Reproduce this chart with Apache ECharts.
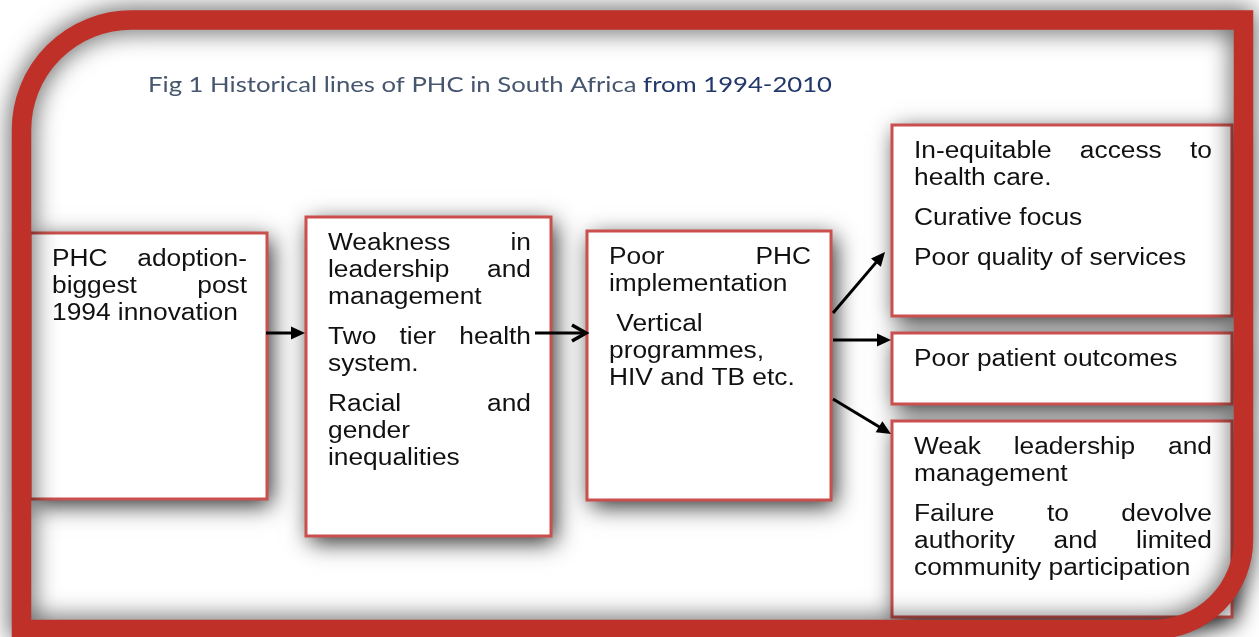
<!DOCTYPE html>
<html><head><meta charset="utf-8">
<script src="https://cdn.jsdelivr.net/npm/echarts@6/dist/echarts.min.js"></script>
<style>html,body{margin:0;padding:0;background:#fff}#c{width:1259px;height:637px}</style>
</head><body><div id="c"></div>
<script>
// ---------- content ----------
const titleParts = ['Fig 1 Historical lines of PHC in South Africa ', 'from 1994-2010'];
const boxNames = ['adoption', 'weaknesses', 'implementation', 'access', 'outcomes', 'governance'];
const boxParagraphs = [
  [['PHC adoption-', 'biggest post', '1994 innovation']],
  [['Weakness in', 'leadership and', 'management'], ['Two tier health', 'system.'], ['Racial and', 'gender', 'inequalities']],
  [['Poor PHC', 'implementation'], [' Vertical', 'programmes,', 'HIV and TB etc.']],
  [['In-equitable access to', 'health care.'], ['Curative focus'], ['Poor quality of services']],
  [['Poor patient outcomes']],
  [['Weak leadership and', 'management'], ['Failure to devolve', 'authority and limited', 'community participation']]
];
const links = [[0, 1], [1, 2], [2, 3], [2, 4], [2, 5]];
const linkHeads = ['solid', 'open', 'solid', 'solid', 'solid'];

// ---------- layout ----------
const boxRects = [[30, 233, 237, 266], [306, 217, 245, 319], [587, 231, 244, 269], [892, 125, 340, 191], [892, 333, 340, 71], [892, 421, 340, 196]];
const linkPaths = [[[266, 333], [305, 333]], [[535, 333], [586, 333]], [[833, 313], [885, 252]], [[833, 340], [891, 340]], [[833, 399], [891, 434]]];
const frame = { x: 21.5, y: 20, w: 1222, h: 609.5, r: [110, 0, 90, 0], lw: 19.5 };
const FONT_SIZE = 23.5, SX = 1.12, FONT_FAMILY = '"Liberation Sans", Arial, sans-serif';
const FONT = FONT_SIZE + 'px ' + FONT_FAMILY;
const TITLE_SIZE = 21.5, TITLE_FAMILY = 'Lato, "Open Sans", sans-serif';

const ctx = document.createElement('canvas').getContext('2d');
function measure(s, font) { ctx.font = font; return ctx.measureText(s).width; }

const els = [];
// white inner area of the frame
els.push({ type: 'rect', z: 0, shape: { x: frame.x, y: frame.y, width: frame.w, height: frame.h, r: frame.r }, style: { fill: '#ffffff' } });

function textEl(s, x, y) {
  return { type: 'text', z: 4, x: x, y: y, scaleX: SX,
    style: { text: s, font: FONT, fontSize: FONT_SIZE, fontFamily: FONT_FAMILY, fill: '#111111',
      align: 'left', verticalAlign: 'middle', textAlign: 'left', textVerticalAlign: 'middle' } };
}

boxRects.forEach((b, i) => {
  els.push({ type: 'rect', z: 1, shape: { x: b[0], y: b[1], width: b[2], height: b[3] },
    style: { fill: '#ffffff', shadowBlur: 22, shadowColor: 'rgba(0,0,0,0.85)', shadowOffsetX: 4, shadowOffsetY: 6 } });
  els.push({ type: 'rect', z: 2, shape: { x: b[0], y: b[1], width: b[2], height: b[3] },
    style: { fill: '#ffffff', stroke: '#C9504C', lineWidth: 3 } });
  const left = b[0] + 22, right = b[0] + b[2] - 20;
  let y = b[1] + 26.5;
  boxParagraphs[i].forEach(par => {
    par.forEach((line, li) => {
      const words = line.trim().split(/\s+/);
      const isLast = li === par.length - 1;
      if (!isLast && words.length > 1) {
        const widths = words.map(wd => measure(wd, FONT) * SX);
        const total = widths.reduce((a, c) => a + c, 0);
        const gap = (right - left - total) / (words.length - 1);
        let x = left;
        words.forEach((wd, k) => { els.push(textEl(wd, x, y)); x += widths[k] + gap; });
      } else {
        els.push(textEl(line, left, y));
      }
      y += 27;
    });
    y += 13;
  });
});

// arrows
linkPaths.forEach((p, i) => {
  const [x1, y1] = p[0], [x2, y2] = p[1];
  const dx = x2 - x1, dy = y2 - y1, len = Math.hypot(dx, dy);
  const ux = dx / len, uy = dy / len, px = -uy, py = ux;
  const L = 14, H = 6.5;
  const bx = x2 - ux * L, by = y2 - uy * L;
  if (linkHeads[i] === 'open') {
    els.push({ type: 'line', z: 3, shape: { x1: x1, y1: y1, x2: x2 - ux * 2, y2: y2 - uy * 2 }, style: { stroke: '#000', lineWidth: 3 } });
    els.push({ type: 'polyline', z: 3, shape: { points: [[bx + px * 8, by + py * 8], [x2, y2], [bx - px * 8, by - py * 8]] }, style: { stroke: '#000', lineWidth: 3.5, fill: null } });
  } else {
    els.push({ type: 'line', z: 3, shape: { x1: x1, y1: y1, x2: bx + ux, y2: by + uy }, style: { stroke: '#000', lineWidth: 3 } });
    els.push({ type: 'polygon', z: 3, shape: { points: [[x2, y2], [bx + px * H, by + py * H], [bx - px * H, by - py * H]] }, style: { fill: '#000' } });
  }
});

// frame border on top
els.push({ type: 'rect', z: 6, shape: { x: frame.x, y: frame.y, width: frame.w, height: frame.h, r: frame.r },
  style: { fill: null, stroke: '#BF3128', lineWidth: frame.lw, shadowBlur: 26, shadowColor: 'rgba(0,0,0,0.75)' } });

// title
const tFont = TITLE_SIZE + 'px ' + TITLE_FAMILY;
const w1 = measure(titleParts[0], tFont), w2 = measure(titleParts[1], tFont);
const tsx = 684 / (w1 + w2);
els.push({ type: 'text', z: 5, x: 148, y: 85, scaleX: tsx,
  style: { text: titleParts[0], font: tFont, fill: '#46566E', align: 'left', verticalAlign: 'middle', textAlign: 'left', textVerticalAlign: 'middle' } });
els.push({ type: 'text', z: 5, x: 148 + w1 * tsx, y: 85, scaleX: tsx,
  style: { text: titleParts[1], font: tFont, fill: '#22386A', align: 'left', verticalAlign: 'middle', textAlign: 'left', textVerticalAlign: 'middle' } });

const chart = echarts.init(document.getElementById('c'), null, { renderer: 'canvas' });
chart.setOption({ backgroundColor: '#ffffff', animation: false, graphic: { elements: els } });
</script>
</body></html>
